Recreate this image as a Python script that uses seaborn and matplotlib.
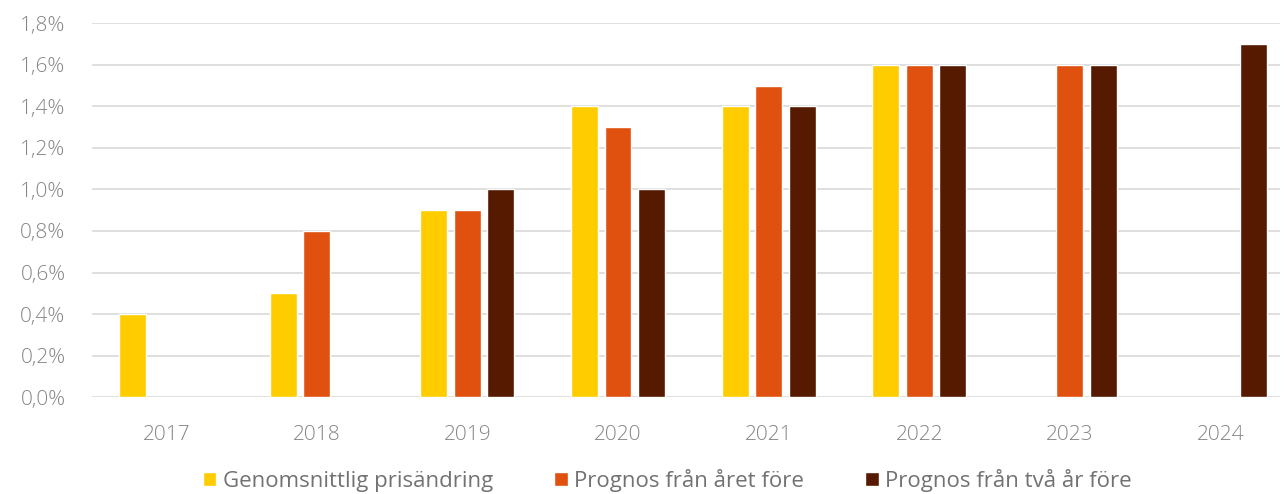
import matplotlib
matplotlib.use("Agg")
import matplotlib.pyplot as plt
import pandas as pd
import numpy as np
import seaborn as sns
from matplotlib.ticker import FuncFormatter

years = ["2017", "2018", "2019", "2020", "2021", "2022", "2023", "2024"]
genomsnitt = [0.4, 0.5, 0.9, 1.4, 1.4, 1.6, np.nan, np.nan]
prognos_1 = [np.nan, 0.8, 0.9, 1.3, 1.5, 1.6, 1.6, np.nan]
prognos_2 = [np.nan, np.nan, 1.0, 1.0, 1.4, 1.6, 1.6, 1.7]
series = ["Genomsnittlig prisändring", "Prognos från året före", "Prognos från två år före"]
colors = ["#FFCC00", "#E0500F", "#561A00"]

df = pd.DataFrame({
    "year": years * 3,
    "value": genomsnitt + prognos_1 + prognos_2,
    "serie": [series[0]] * 8 + [series[1]] * 8 + [series[2]] * 8,
})

sns.set_theme(style="white")
plt.rcParams["font.family"] = ["Open Sans", "DejaVu Sans"]

fig = plt.figure(figsize=(12.86, 4.94), dpi=100)
ax = fig.add_axes([0.0715, 0.196, 0.9235, 0.757])

sns.barplot(data=df, x="year", y="value", hue="serie", order=years,
            hue_order=series, palette=colors, width=0.6675, gap=0.195,
            saturation=1, ax=ax, legend=True)

ax.set_ylim(0, 1.8)
ax.set_yticks(np.arange(0, 1.81, 0.2))
ax.yaxis.set_major_formatter(FuncFormatter(lambda v, p: f"{v:.1f}%".replace(".", ",")))
ax.set_xlim(-0.494, 7.394)
ax.grid(axis="y", color="#d9d9d9", linewidth=1.2)
ax.set_axisbelow(True)
for s in ax.spines.values():
    s.set_visible(False)
ax.set_xlabel("")
ax.set_ylabel("")
ax.tick_params(axis="both", length=0, labelsize=15, labelcolor="#858585")
ax.tick_params(axis="x", pad=20)
ax.tick_params(axis="y", pad=19)
for t in ax.get_xticklabels() + ax.get_yticklabels():
    t.set_fontweight("light")

handles, labels = ax.get_legend_handles_labels()
ax.get_legend().remove()
fig.legend(handles, labels, loc="center", bbox_to_anchor=(0.519, 0.028), ncol=3,
           frameon=False, fontsize=16, handlelength=0.6, handleheight=0.6,
           handletextpad=0.3, columnspacing=2.75, labelcolor="#727272")

fig.savefig("out.png", dpi=100)
